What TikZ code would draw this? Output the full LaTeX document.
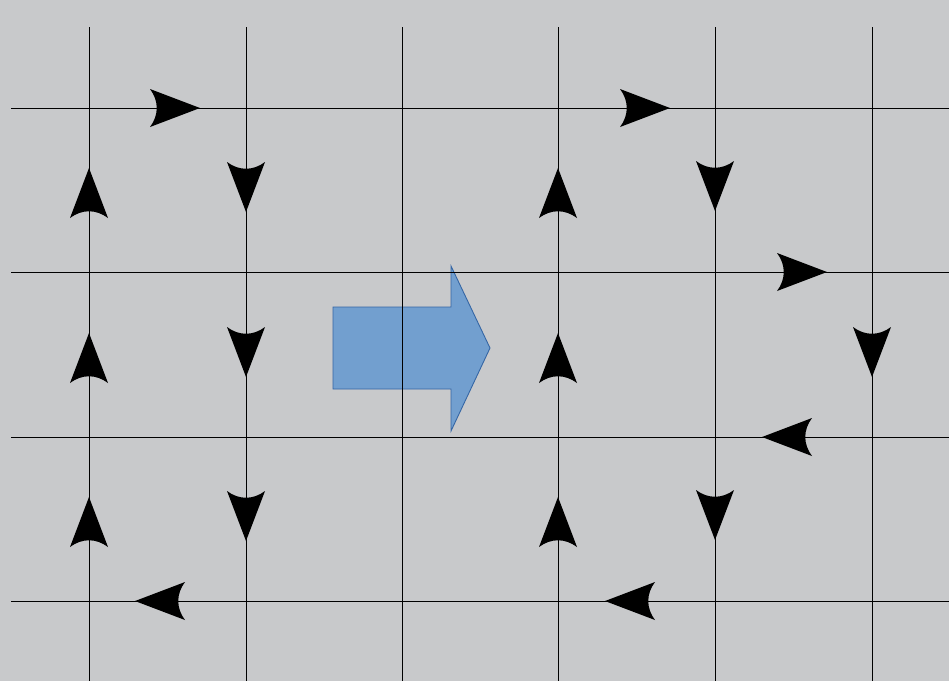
\documentclass[tikz,border=0pt]{standalone}
\usepackage{tikz}

\definecolor{bggrey}{RGB}{200,201,203}
\definecolor{shiftblue}{RGB}{114,159,207}
\definecolor{shiftedge}{RGB}{52,101,164}

\begin{document}
\begin{tikzpicture}[
    x=0.02cm, y=-0.02cm,
    grid line/.style={black, line width=0.55pt},
    shift arrow/.style={fill=shiftblue, draw=shiftedge, line width=0.5pt},
    flow head/.pic={
        \fill[black] (0,0) -- (-50,19) .. controls (-41,7) and (-41,-7) .. (-50,-19) -- cycle;
    }
]
    % Background and bounding box
    \fill[bggrey] (0,0) rectangle (949,681);
    \useasboundingbox (0,0) rectangle (949,681);

    % Big shift arrow between the two grids
    \filldraw[shift arrow] (333,307) -- (451,307) -- (451,266) -- (490,348)
        -- (451,431) -- (451,389) -- (333,389) -- cycle;

    % Grid lines
    \foreach \x in {89,246,402,558,715,872}
        \draw[grid line] (\x,27) coordinate (top\x) -- (\x,681) coordinate (bot\x);
    \foreach \y in {108,272,437,601}
        \draw[grid line] (11,\y) coordinate (left\y) -- (949,\y) coordinate (right\y);

    % Left loop
    \pic at (200,108) {flow head};
    \foreach \y in {212,377,541}
        \pic[rotate=-90] at (246,\y) {flow head};
    \foreach \y in {168,333,497}
        \pic[rotate=90] at (89,\y) {flow head};
    \pic[rotate=180] at (135,601) {flow head};

    % Right loop
    \pic at (670,108) {flow head};
    \pic[rotate=-90] at (715,211) {flow head};
    \pic at (827,272) {flow head};
    \pic[rotate=-90] at (872,377) {flow head};
    \pic[rotate=180] at (762,437) {flow head};
    \pic[rotate=-90] at (715,540) {flow head};
    \pic[rotate=180] at (605,601) {flow head};
    \foreach \y in {168,333,497}
        \pic[rotate=90] at (558,\y) {flow head};
\end{tikzpicture}
\end{document}
